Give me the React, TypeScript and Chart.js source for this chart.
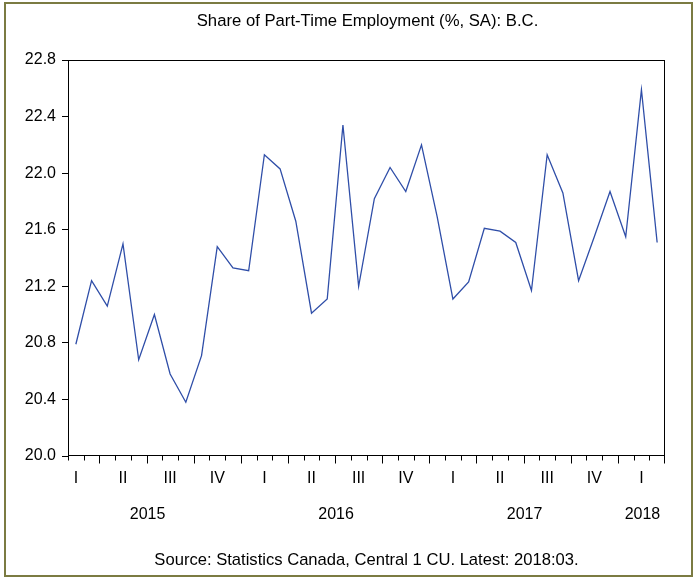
import React, { useEffect, useRef } from 'react';
import { Chart, registerables } from 'chart.js';

Chart.register(...registerables);

// Monthly categories (Feb 2015 - Mar 2018)
const months: string[] = [
  '2015-02', '2015-03', '2015-04', '2015-05', '2015-06', '2015-07', '2015-08', '2015-09', '2015-10', '2015-11', '2015-12',
  '2016-01', '2016-02', '2016-03', '2016-04', '2016-05', '2016-06', '2016-07', '2016-08', '2016-09', '2016-10', '2016-11', '2016-12',
  '2017-01', '2017-02', '2017-03', '2017-04', '2017-05', '2017-06', '2017-07', '2017-08', '2017-09', '2017-10', '2017-11', '2017-12',
  '2018-01', '2018-02', '2018-03',
];

// Share of part-time employment (%, SA), B.C.
const shareValues: number[] = [
  20.79, 21.24, 21.06, 21.50, 20.68, 21.00, 20.58, 20.38, 20.71, 21.48, 21.33,
  21.31, 22.13, 22.03, 21.66, 21.01, 21.11, 22.34, 21.20, 21.82, 22.04, 21.87, 22.20,
  21.69, 21.11, 21.23, 21.61, 21.59, 21.51, 21.17, 22.13, 21.86, 21.24, 21.55, 21.87,
  21.55, 22.59, 21.51,
];

const yTickValues: number[] = [20.0, 20.4, 20.8, 21.2, 21.6, 22.0, 22.4, 22.8];
const quarterNames: string[] = ['I', 'II', 'III', 'IV'];

const titleText = 'Share of Part-Time Employment (%, SA): B.C.';
const sourceText = 'Source: Statistics Canada, Central 1 CU. Latest: 2018:03.';

const FONT_FAMILY = '"Liberation Sans", Arial, Helvetica, sans-serif';

const decorPlugin = {
  id: 'decor',
  afterDraw(chart: any) {
    const { ctx, chartArea: a } = chart;
    const x = chart.scales.x;
    ctx.save();
    ctx.strokeStyle = '#000';
    ctx.lineWidth = 1;
    const L = Math.round(a.left) + 0.5;
    const R = Math.round(a.right) - 0.5;
    const T = Math.round(a.top) + 0.5;
    const B = Math.round(a.bottom) - 0.5;
    ctx.strokeRect(L, T, R - L, B - T);

    // monthly tick marks at interval boundaries; long at quarter starts
    ctx.beginPath();
    for (let b = 0; b <= months.length; b++) {
      let px = Math.round(x.getPixelForValue(b - 0.5)) + 0.5;
      if (b === months.length) px = R;
      if (b === 0) px = L;
      const mIdx = b < months.length ? parseInt(months[b].slice(5), 10) - 1 : (parseInt(months[months.length - 1].slice(5), 10)) % 12;
      const isQuarterStart = mIdx % 3 === 0;
      const len = isQuarterStart ? 8 : 5;
      ctx.moveTo(px, B);
      ctx.lineTo(px, B + len);
    }
    ctx.stroke();

    ctx.fillStyle = '#000';
    ctx.font = '16px ' + FONT_FAMILY;
    ctx.textAlign = 'center';
    ctx.textBaseline = 'middle';

    // quarter labels at middle month of each quarter, year labels centred on them
    const yearPos: Record<string, number[]> = {};
    months.forEach((m, i) => {
      const mon = parseInt(m.slice(5), 10) - 1;
      if (mon % 3 === 1) {
        const q = Math.floor(mon / 3);
        ctx.fillText(quarterNames[q], x.getPixelForValue(i), a.bottom + 23);
        const yr = m.slice(0, 4);
        (yearPos[yr] = yearPos[yr] || []).push(i);
      }
    });
    Object.keys(yearPos).forEach((yr) => {
      const idx = yearPos[yr];
      const mean = idx.reduce((s, v) => s + v, 0) / idx.length;
      ctx.fillText(yr, x.getPixelForValue(mean) + 1, a.bottom + 59);
    });

    const cx = (a.left + a.right) / 2;
    ctx.font = '16.7px ' + FONT_FAMILY;
    ctx.fillText(titleText, cx + 1, a.top - 39);
    ctx.font = '16.6px ' + FONT_FAMILY;
    ctx.fillText(sourceText, cx, a.bottom + 104);
    ctx.restore();
  },
};

export default function App() {
  const canvasRef = useRef<HTMLCanvasElement | null>(null);

  useEffect(() => {
    const canvas = canvasRef.current;
    if (!canvas) return;
    const chart = new Chart(canvas, {
      type: 'line',
      data: {
        labels: months,
        datasets: [
          {
            data: shareValues,
            borderColor: '#2f4ea8',
            borderWidth: 1.3,
            pointRadius: 0,
            tension: 0,
            fill: false,
          },
        ],
      },
      options: {
        responsive: false,
        animation: false,
        devicePixelRatio: 1,
        layout: { padding: { top: 60, right: 29, bottom: 0, left: 0 } },
        plugins: {
          legend: { display: false },
          title: { display: false },
          tooltip: { enabled: false },
        },
        scales: {
          x: {
            type: 'category',
            offset: true,
            ticks: { display: false },
            grid: { display: false },
            border: { display: false },
            afterFit: (s: any) => {
              s.height = 123;
            },
          },
          y: {
            min: 20,
            max: 22.8,
            afterBuildTicks: (s: any) => {
              s.ticks = yTickValues.map((v) => ({ value: v }));
            },
            ticks: {
              color: '#000',
              padding: 6,
              font: { family: FONT_FAMILY, size: 16 },
              callback: (v: any) => Number(v).toFixed(1),
            },
            grid: { drawOnChartArea: false, tickLength: 6, tickColor: '#000' },
            border: { display: false },
            afterFit: (s: any) => {
              s.width = 68;
            },
          },
        },
      },
      plugins: [decorPlugin],
    });
    return () => chart.destroy();
  }, []);

  return (
    <div style={{ position: 'absolute', left: 0, top: 0, width: 694, height: 579, background: '#fff' }}>
      <canvas ref={canvasRef} width={694} height={579} style={{ display: 'block' }} />
      <div
        style={{
          position: 'absolute',
          left: 4,
          top: 2,
          width: 689,
          height: 575,
          boxSizing: 'border-box',
          border: '2px solid #7b7b42',
          pointerEvents: 'none',
        }}
      />
    </div>
  );
}
